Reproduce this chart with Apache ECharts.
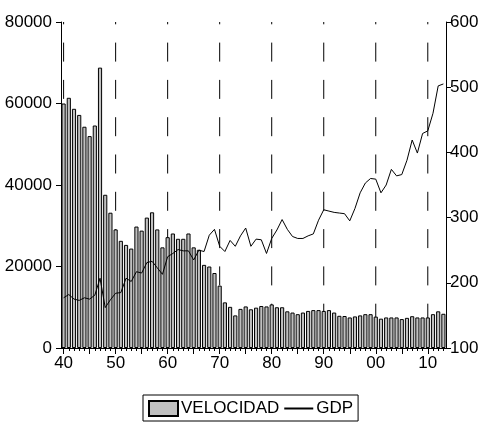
<!DOCTYPE html>
<html>
<head>
<meta charset="utf-8">
<script src="https://cdn.jsdelivr.net/npm/echarts@6/dist/echarts.min.js"></script>
<style>
  html, body { margin: 0; padding: 0; background: #fff; }
  #chart { width: 484px; height: 424px; }
</style>
</head>
<body>
<div id="chart"></div>
<script>
// Years 1940–2013
const years = [];
for (let y = 1940; y <= 2013; y++) years.push(String(y));

// Velocity of money (left axis)
const velocidad = [
  60000, 61400, 58700, 57200, 54300, 52000, 54600, 68800, 37600, 33200,
  29100, 26300, 25300, 24400, 29800, 28800, 32000, 33300, 29100, 24700,
  27200, 28100, 26800, 26800, 28100, 24700, 24100, 20400, 20000, 18400,
  15300, 11200, 10100, 8000, 9600, 10200, 9500, 9900, 10300, 10200,
  10700, 10000, 10000, 9000, 8700, 8300, 8700, 9100, 9300, 9300,
  9100, 9300, 8700, 7900, 7850, 7500, 7750, 8000, 8300, 8300,
  7700, 7200, 7500, 7500, 7500, 7100, 7400, 7800, 7500, 7500,
  7500, 8300, 9000, 8400
];

// GDP (right axis)
const gdp = [
  177, 182, 175, 173, 177, 175, 181, 207, 162, 174,
  184, 185, 207, 202, 217, 215, 231, 233, 223, 213,
  240, 245, 251, 249, 249, 235, 250, 248, 273, 282,
  256, 248, 265, 256, 272, 284, 256, 267, 266, 245,
  268, 281, 297, 282, 271, 268, 268, 272, 275, 296,
  312, 310, 308, 307, 306, 295, 314, 338, 353, 360,
  359, 338, 350, 374, 364, 366, 388, 419, 399, 429,
  433, 460, 502, 505
];

// Decade reference lines
const decades = ['1940', '1950', '1960', '1970', '1980', '1990', '2000', '2010'];

const LEFT_MIN = 0, LEFT_MAX = 80000;
const FONT = "'Liberation Sans', Arial, sans-serif";
const chart = echarts.init(document.getElementById('chart'), null, { renderer: 'canvas' });

const gridBox = { left: 61, right: 38, top: 22, bottom: 76, containLabel: false };

chart.setOption({
  animation: false,
  backgroundColor: '#fff',
  textStyle: { fontFamily: FONT, color: '#000' },
  grid: [Object.assign({}, gridBox), Object.assign({}, gridBox)],
  xAxis: [
    {
      type: 'category',
      gridIndex: 0,
      data: years,
      boundaryGap: true,
      axisLine: { lineStyle: { color: '#000', width: 1 } },
      axisTick: { show: true, interval: 0, alignWithLabel: true, length: 3, lineStyle: { color: '#000' } },
      axisLabel: {
        interval: (idx, val) => Number(val) % 10 === 0,
        formatter: (val) => val.slice(2),
        color: '#000', fontSize: 17, fontFamily: FONT, margin: 7
      },
      splitLine: { show: false }
    },
    {
      // longer ticks every five years
      type: 'category',
      gridIndex: 1,
      data: years,
      boundaryGap: true,
      axisLine: { show: false },
      axisTick: {
        show: true, alignWithLabel: true, length: 6,
        interval: (idx) => idx % 5 === 0,
        lineStyle: { color: '#000' }
      },
      axisLabel: { show: false },
      splitLine: { show: false }
    }
  ],
  yAxis: [
    {
      type: 'value',
      gridIndex: 0,
      position: 'left',
      min: LEFT_MIN, max: LEFT_MAX, interval: 20000,
      axisLine: { show: true, lineStyle: { color: '#000', width: 1 } },
      axisTick: { show: true, length: 5, lineStyle: { color: '#000' } },
      axisLabel: { color: '#000', fontSize: 17, fontFamily: FONT, margin: 9, formatter: (v) => String(v) },
      splitLine: { show: false }
    },
    {
      type: 'value',
      gridIndex: 0,
      position: 'right',
      min: 100, max: 600, interval: 100,
      axisLine: { show: true, lineStyle: { color: '#000', width: 1 } },
      axisTick: { show: true, length: 5, lineStyle: { color: '#000' } },
      axisLabel: { color: '#000', fontSize: 17, fontFamily: FONT, margin: 4, formatter: (v) => String(v) },
      splitLine: { show: false }
    },
    {
      type: 'value',
      gridIndex: 1,
      show: false,
      min: 0, max: 1
    }
  ],
  legend: {
    data: [
      { name: 'VELOCIDAD', icon: 'rect' },
      { name: 'GDP', itemStyle: { opacity: 0 } }
    ],
    left: 143,
    top: 395,
    orient: 'horizontal',
    padding: [5, 5, 4, 5],
    itemGap: 4,
    itemWidth: 29,
    itemHeight: 15,
    borderColor: '#000',
    borderWidth: 1,
    borderRadius: 0,
    textStyle: { color: '#000', fontSize: 17, fontFamily: FONT, padding: [0, 0, 0, -2] }
  },
  series: [
    {
      // dashed decade markers, drawn bottom-up behind the bars
      name: 'decades',
      type: 'custom',
      xAxisIndex: 0,
      yAxisIndex: 0,
      z: 1,
      silent: true,
      data: decades.map(d => [d]),
      renderItem: (params, api) => {
        const idx = api.value(0);
        const p0 = api.coord([idx, LEFT_MIN]);
        const p1 = api.coord([idx, LEFT_MAX]);
        return {
          type: 'line',
          shape: { x1: p0[0], y1: p0[1], x2: p1[0], y2: p1[1] },
          style: { stroke: '#000', lineWidth: 1, lineDash: [19, 18.3], lineDashOffset: 12 }
        };
      }
    },
    {
      name: 'VELOCIDAD',
      type: 'bar',
      xAxisIndex: 0,
      yAxisIndex: 0,
      data: velocidad,
      barCategoryGap: '20%',
      itemStyle: { color: '#c0c0c0', borderColor: '#000', borderWidth: 1 },
      z: 2
    },
    {
      name: 'GDP',
      type: 'line',
      xAxisIndex: 0,
      yAxisIndex: 1,
      data: gdp,
      symbol: 'none',
      showSymbol: false,
      lineStyle: { color: '#000', width: 1 },
      itemStyle: { color: '#000' },
      z: 3
    }
  ]
});
</script>
</body>
</html>
